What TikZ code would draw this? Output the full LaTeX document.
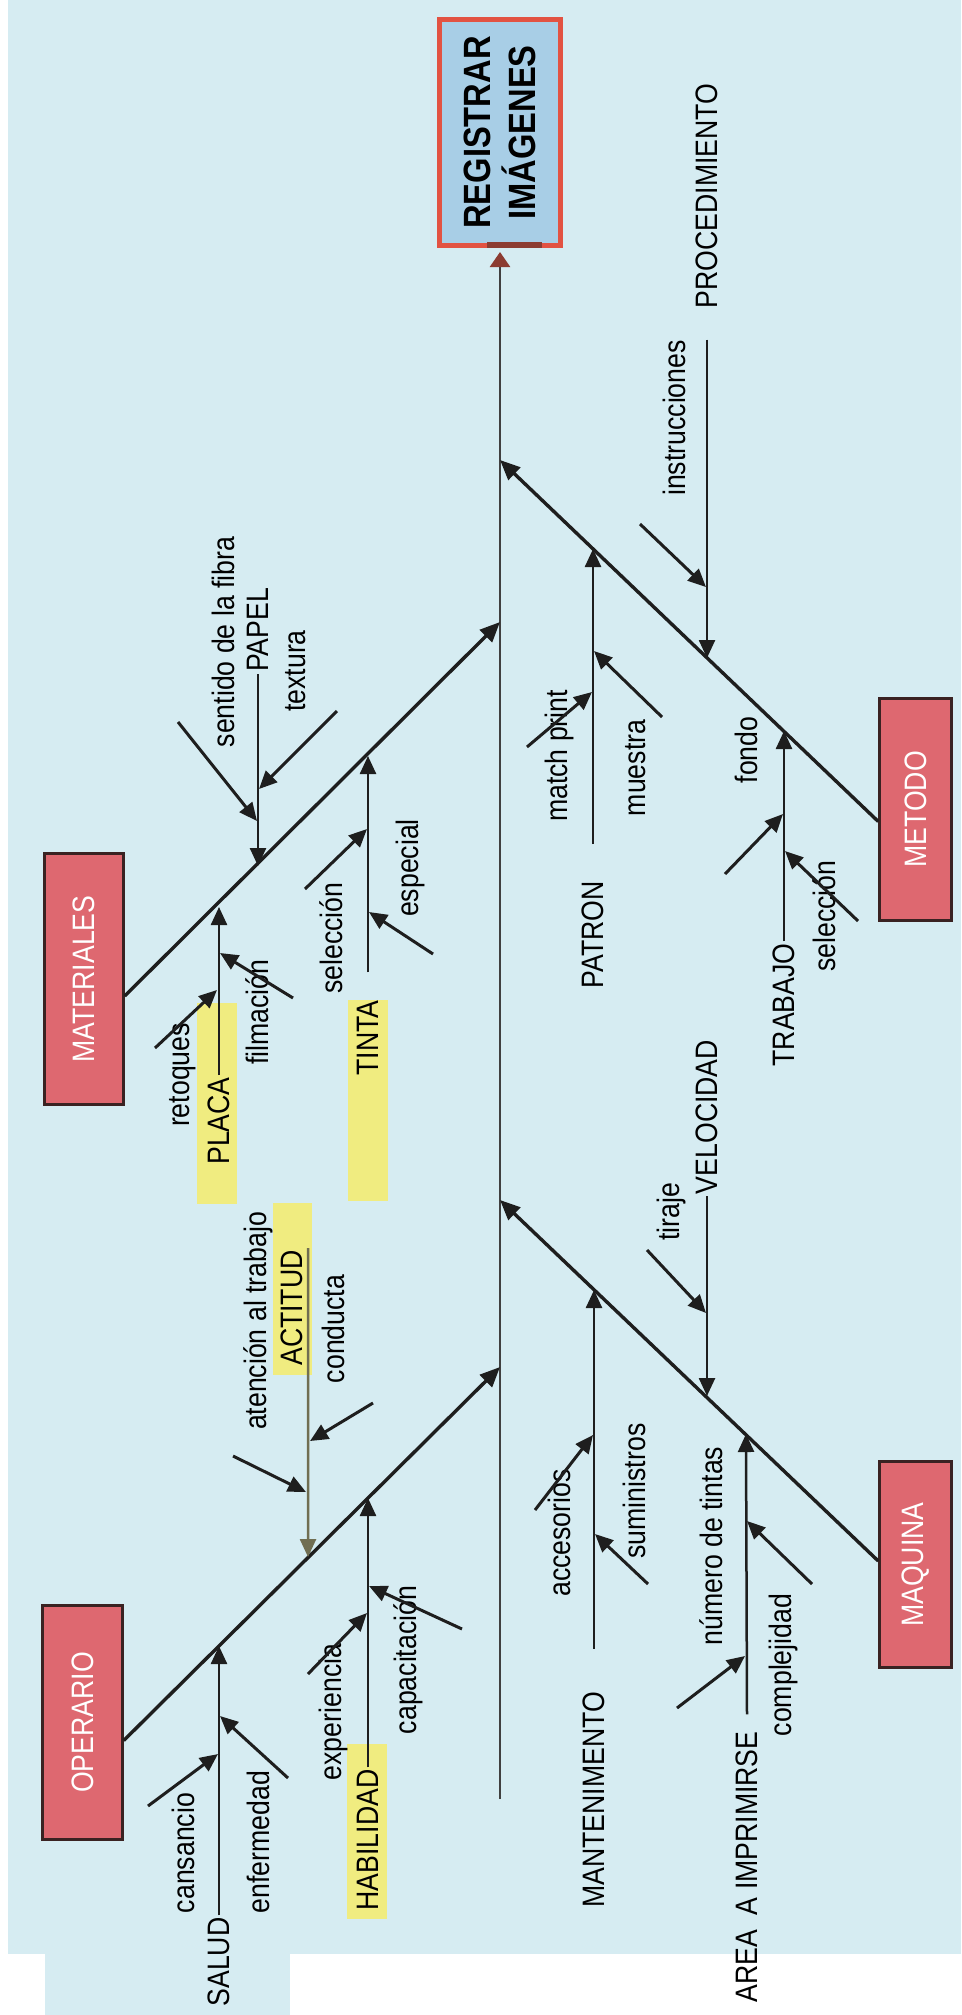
\documentclass[tikz,border=0pt]{standalone}
\usepackage{fontspec}
\newfontfamily\diagfont{Liberation Sans}[FakeStretch=0.86]
\usetikzlibrary{arrows.meta}

\definecolor{fondo}{RGB}{214,236,242}
\definecolor{azulcaja}{RGB}{168,206,230}
\definecolor{rojoborde}{RGB}{226,82,66}
\definecolor{rojo}{RGB}{222,104,112}
\definecolor{borde}{RGB}{58,34,34}
\definecolor{amarillo}{RGB}{240,236,128}
\definecolor{punta}{RGB}{140,60,50}
\definecolor{linea}{RGB}{30,30,30}
\definecolor{oliva}{RGB}{112,110,82}

\begin{document}
\begin{tikzpicture}
    [
    x=1pt, y=-1pt,
    texto/.style={rotate=90, inner sep=2pt, font=\diagfont\fontsize{31}{36}\selectfont},
    categoria/.style={texto, draw=borde, line width=2.5pt, fill=rojo, text=white, inner sep=0pt},
    espina/.style={draw=linea, line width=3.4pt, -{Triangle[length=20pt,width=17pt]}},
    rama/.style={draw=linea, line width=2.5pt, -{Triangle[length=18pt,width=16pt]}},
    subrama/.style={draw=linea, line width=3pt, -{Triangle[length=18pt,width=16pt]}},
    resalte/.style={fill=amarillo},
    ]
    \useasboundingbox (0,0) rectangle (961,2015);
    \fill[white] (0,0) rectangle (961,2015);
    \fill[fondo] (8,0) rectangle (961,1954);
    \fill[fondo] (45,1954) rectangle (290,2015);

    \fill[resalte] (197,1003) rectangle (237,1204);
    \fill[resalte] (348,1000) rectangle (388,1201);
    \fill[resalte] (273,1203) rectangle (312,1375);
    \fill[resalte] (347,1744) rectangle (387,1919);

    \node (efecto) at (500,132.5) [rotate=90, draw=rojoborde, line width=5pt, fill=azulcaja,
        minimum width=226pt, minimum height=121pt, inner sep=0pt, align=center,
        font=\diagfont\bfseries\fontsize{38}{45}\selectfont] {REGISTRAR\\IMÁGENES};
    \draw [punta, line width=6pt] ([xshift=-13pt,yshift=3pt]efecto.west) -- ([xshift=42pt,yshift=3pt]efecto.west);

    \node (mat) at (84,979) [categoria, minimum width=251pt, minimum height=79pt] {MATERIALES};
    \node (ope) at (82.5,1722.5) [categoria, minimum width=234pt, minimum height=80pt] {OPERARIO};
    \node (met) at (915.5,809.5) [categoria, minimum width=222pt, minimum height=72pt] {METODO};
    \node (maq) at (915.5,1564.5) [categoria, minimum width=206pt, minimum height=72pt] {MAQUINA};

    \coordinate (cola) at (500,1799);
    \coordinate (jMet) at (500,460);
    \coordinate (jMat) at (500,622);
    \coordinate (jMaq) at (500,1200);
    \coordinate (jOpe) at (500,1367);

    \draw [draw=linea!85, line width=2.6pt, shorten >=4pt, -{Triangle[length=15pt,width=20pt,color=punta]}] (cola) to (efecto.west);

    \draw [espina] ([yshift=-17pt]mat.south) to (jMat);
    \draw [espina] ([yshift=-18pt]ope.south) to (jOpe);
    \draw [espina] ([yshift=-12pt]met.north) to (jMet);
    \draw [espina] ([yshift=3.5pt]maq.north) to (jMaq);

    \node (papel) at (258,630) [texto] {PAPEL};
    \node (tFibra) at (223,642) [texto] {sentido de la fibra};
    \node (tTextura) at (296,671) [texto] {textura};
    \node (placa) at (219,1121) [texto] {PLACA};
    \node (tRetoques) at (183,1075) [texto] {retoques};
    \node (tFilmacion) at (257,1012) [texto] {filmación};
    \node (tinta) at (368,1038) [texto] {TINTA};
    \node (tSeleccion) at (331,938) [texto] {selección};
    \node (tEspecial) at (410,868) [texto] {especial};

    \node (actitud) at (292,1308) [texto] {ACTITUD};
    \node (tAtencion) at (258,1321) [texto] {atención al trabajo};
    \node (tConducta) at (333,1329) [texto] {conducta};
    \node (habilidad) at (368,1840) [texto] {HABILIDAD};
    \node (tExperiencia) at (333,1712) [texto] {experiencia};
    \node (tCapacitacion) at (408,1660) [texto] {capacitación};
    \node (salud) at (219,1962) [texto] {SALUD};
    \node (tCansancio) at (183,1853) [texto] {cansancio};
    \node (tEnfermedad) at (258,1842) [texto] {enfermedad};

    \node (procedimiento) at (707,196) [texto] {PROCEDIMIENTO};
    \node (tInstrucciones) at (674,418) [texto] {instrucciones};
    \node (patron) at (593,935) [texto] {PATRON};
    \node (tMatch) at (559,756) [texto] {match print};
    \node (tMuestra) at (636,768) [texto] {muestra};
    \node (trabajo) at (784,1005) [texto] {TRABAJO};
    \node (tFondo) at (746,750) [texto] {fondo};
    \node (tSelTrabajo) at (824,916) [texto] {selección};

    \node (velocidad) at (707,1117) [texto] {VELOCIDAD};
    \node (tTiraje) at (671,1212) [texto] {tiraje};
    \node (mant) at (594,1800) [texto] {MANTENIMENTO};
    \node (tAccesorios) at (559,1533) [texto] {accesorios};
    \node (tSuministros) at (634,1491) [texto] {suministros};
    \node (area) at (747,1867) [texto] {AREA\ \ A IMPRIMIRSE};
    \node (tNumero) at (711,1546) [texto] {número de tintas};
    \node (tComplejidad) at (783,1665) [texto] {complejidad};

    \coordinate (bPapel) at (258,866);
    \coordinate (bPlaca) at (219,907);
    \coordinate (bTinta) at (368,756);
    \coordinate (bActitud) at (308,1557);
    \coordinate (bHabilidad) at (368,1498);
    \coordinate (bSalud) at (219,1646);
    \coordinate (bProc) at (707,658);
    \coordinate (bPatron) at (593,549);
    \coordinate (bTrabajo) at (784,731);
    \coordinate (bVelocidad) at (707,1396);
    \coordinate (bMant) at (594,1290);
    \coordinate (bArea) at (746,1434);

    \draw [rama] (papel.west) to (bPapel);
    \draw [rama] (placa.east) to (bPlaca);
    \draw [rama] ([yshift=26pt]tinta.east) to (bTinta);
    \draw [rama, draw=oliva] ([xshift=3pt]actitud.south east) to (bActitud);
    \draw [rama] (habilidad.east) to (bHabilidad);
    \draw [rama] (salud.east) to (bSalud);
    \draw [rama] ([yshift=-29pt]procedimiento.west) to (bProc);
    \draw [rama] ([yshift=35pt]patron.east) to (bPatron);
    \draw [rama] (trabajo.east) to (bTrabajo);
    \draw [rama] (velocidad.west) to (bVelocidad);
    \draw [rama] ([yshift=41pt]mant.east) to (bMant);
    \draw [rama] ([yshift=15pt]area.east) to (bArea);

    \coordinate (fibra) at (178,722);       \coordinate (fibra-p) at (257,821);
    \coordinate (textura) at (337,711);     \coordinate (textura-p) at (259,789);
    \coordinate (retoques) at (155,1048);   \coordinate (retoques-p) at (217,990);
    \coordinate (filmacion) at (293,998);   \coordinate (filmacion-p) at (220,953);
    \coordinate (seleccion) at (305,889);   \coordinate (seleccion-p) at (367,829);
    \coordinate (especial) at (433,954);    \coordinate (especial-p) at (369,912);
    \coordinate (atencion) at (233,1456);   \coordinate (atencion-p) at (306,1492);
    \coordinate (conducta) at (373,1403);   \coordinate (conducta-p) at (310,1441);
    \coordinate (experiencia) at (308,1674); \coordinate (experiencia-p) at (367,1613);
    \coordinate (capacitacion) at (462,1629); \coordinate (capacitacion-p) at (369,1586);
    \coordinate (cansancio) at (148,1806);  \coordinate (cansancio-p) at (218,1754);
    \coordinate (enfermedad) at (288,1778); \coordinate (enfermedad-p) at (220,1716);
    \coordinate (instrucciones) at (640,524); \coordinate (instrucciones-p) at (706,587);
    \coordinate (match) at (527,747);       \coordinate (match-p) at (592,692);
    \coordinate (muestra) at (662,717);     \coordinate (muestra-p) at (594,651);
    \coordinate (fondo) at (725,874);       \coordinate (fondo-p) at (783,814);
    \coordinate (seltrabajo) at (858,921);  \coordinate (seltrabajo-p) at (785,851);
    \coordinate (tiraje) at (647,1250);     \coordinate (tiraje-p) at (706,1313);
    \coordinate (accesorios) at (535,1510); \coordinate (accesorios-p) at (593,1435);
    \coordinate (suministros) at (648,1584); \coordinate (suministros-p) at (595,1534);
    \coordinate (numero) at (677,1708);     \coordinate (numero-p) at (745,1656);
    \coordinate (complejidad) at (812,1584); \coordinate (complejidad-p) at (747,1521);

    \draw [subrama] (fibra) to (fibra-p);
    \draw [subrama] (textura) to (textura-p);
    \draw [subrama] (retoques) to (retoques-p);
    \draw [subrama] (filmacion) to (filmacion-p);
    \draw [subrama] (seleccion) to (seleccion-p);
    \draw [subrama] (especial) to (especial-p);
    \draw [subrama] (atencion) to (atencion-p);
    \draw [subrama] (conducta) to (conducta-p);
    \draw [subrama] (experiencia) to (experiencia-p);
    \draw [subrama] (capacitacion) to (capacitacion-p);
    \draw [subrama] (cansancio) to (cansancio-p);
    \draw [subrama] (enfermedad) to (enfermedad-p);
    \draw [subrama] (instrucciones) to (instrucciones-p);
    \draw [subrama] (match) to (match-p);
    \draw [subrama] (muestra) to (muestra-p);
    \draw [subrama] (fondo) to (fondo-p);
    \draw [subrama] (seltrabajo) to (seltrabajo-p);
    \draw [subrama] (tiraje) to (tiraje-p);
    \draw [subrama] (accesorios) to (accesorios-p);
    \draw [subrama] (suministros) to (suministros-p);
    \draw [subrama] (numero) to (numero-p);
    \draw [subrama] (complejidad) to (complejidad-p);
  \end{tikzpicture}
\end{document}
